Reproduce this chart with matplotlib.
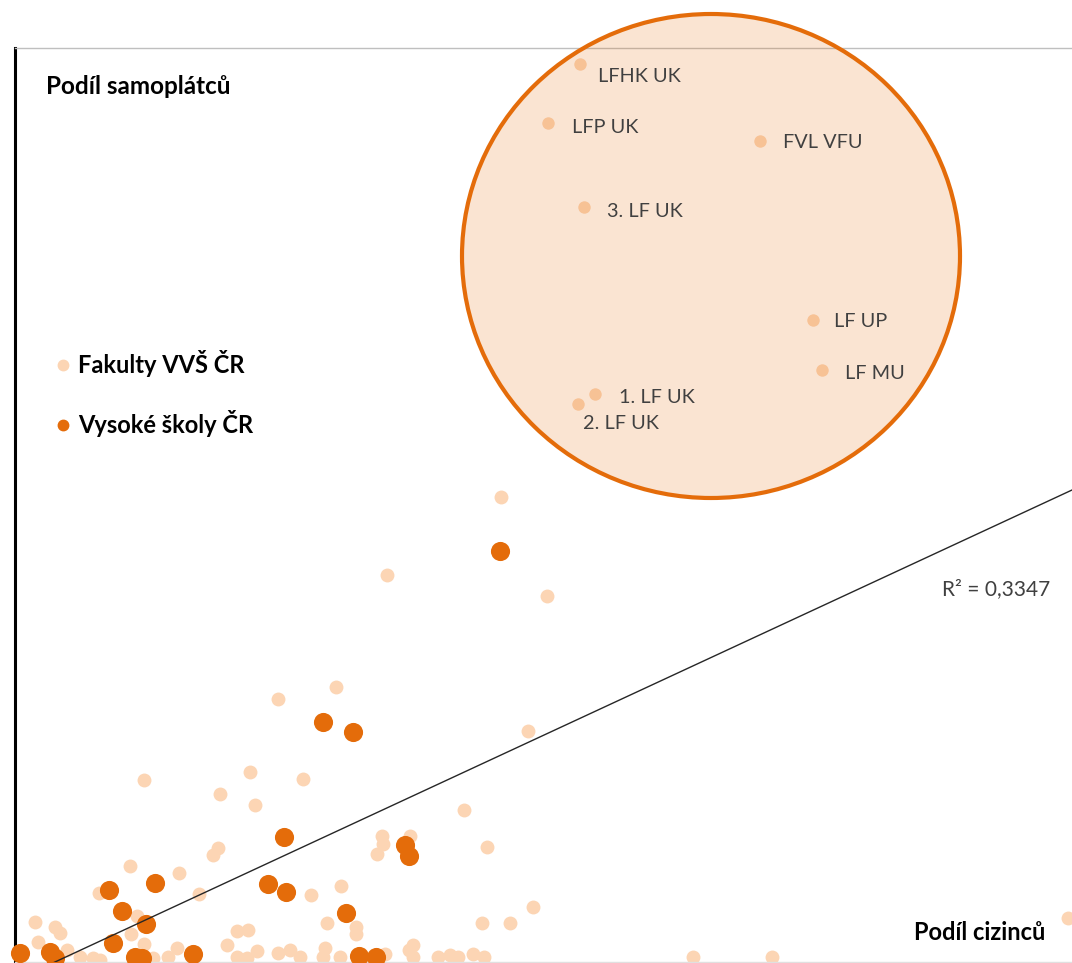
import matplotlib
matplotlib.use('Agg')
import matplotlib.pyplot as plt
from matplotlib.patches import Ellipse
from matplotlib.lines import Line2D

plt.rcParams['font.family'] = ['Lato', 'DejaVu Sans']

W, H = 1072, 963
mydpi = 100

# share of foreigners (x) and share of self-payers (y), in %
fak_x = [24.3, 18.6, 26.6, 16.05, 13.15, 25.65, 6.45, 11.75, 14.4, 10.25,
         12.0, 22.45, 18.35, 18.4, 18.1, 19.75, 23.6, 10.15, 9.9, 5.75,
         8.2, 4.2, 9.2, 14.8, 16.3, 6.1, 1.0, 2.0, 2.25, 5.8,
         1.15, 6.45, 2.6, 3.25, 3.9, 4.25, 8.1, 7.65, 6.9, 10.6,
         11.1, 11.65, 12.1, 11.1, 11.6, 15.6, 17.05, 17.05, 25.9, 23.35,
         24.75, 13.15, 13.75, 14.25, 15.5, 15.4, 16.25, 18.5, 19.9, 19.7,
         19.9, 21.15, 21.75, 22.15, 22.9, 23.45, 33.9, 37.85, 52.65]
fak_y = [23.25, 19.35, 18.3, 13.75, 13.15, 11.55, 9.1, 9.5, 9.15, 8.4,
         7.85, 7.6, 6.3, 5.9, 5.4, 6.3, 5.75, 5.7, 5.35, 4.8,
         4.45, 3.45, 3.4, 3.35, 3.8, 2.3, 2.0, 1.75, 1.45, 1.4,
         1.0, 0.9, 0.6, 0.25, 0.2, 0.1, 0.7, 0.25, 0.2, 0.85,
         1.55, 1.6, 0.55, 0.25, 0.2, 1.95, 1.75, 1.4, 2.75, 1.95,
         1.95, 0.45, 0.6, 0.25, 0.7, 0.25, 0.25, 0.4, 0.85, 0.6,
         0.25, 0.25, 0.35, 0.25, 0.4, 0.25, 0.25, 0.25, 2.2]

# highlighted faculties (medicine / veterinary)
med_names = ['LFHK UK', 'LFP UK', 'FVL VFU', '3. LF UK', 'LF UP', 'LF MU', '1. LF UK', '2. LF UK']
med_x = [28.25, 26.65, 37.25, 28.45, 39.9, 40.35, 29.0, 28.15]
med_y = [44.9, 41.95, 41.05, 37.75, 32.1, 29.6, 28.4, 27.9]

# universities
vs_x = [24.25, 15.4, 16.9, 13.45, 19.5, 19.7, 7.0, 4.7, 5.35, 6.55,
        4.9, 0.25, 1.75, 2.0, 6.0, 6.35, 8.9, 12.65, 13.55, 16.55,
        17.2, 18.05]
vs_y = [20.55, 12.0, 11.5, 6.25, 5.85, 5.3, 3.95, 3.6, 2.55, 1.9,
        0.95, 0.45, 0.5, 0.2, 0.25, 0.2, 0.4, 3.9, 3.5, 2.45,
        0.3, 0.25]

trend_slope = 0.4641
trend_intercept = -0.928
r2_text = 'R² = 0,3347'

x_range = [0, 52.85]
y_range = [0, 45.7]

light = '#FCD5B4'
dark = '#E46C0A'
textgray = '#404040'


def fpx(x, y):
    # pixel position in the picture -> figure fraction
    return x / W, 1 - y / H


fig = plt.figure(figsize=(W / mydpi, H / mydpi), dpi=mydpi)
ax = fig.add_axes([15 / W, 1 / H, 1057 / W, 914 / H])
ax.set_xlim(x_range)
ax.set_ylim(y_range)
ax.set_xticks([])
ax.set_yticks([])

ax.spines['right'].set_visible(False)
ax.spines['left'].set_color('black')
ax.spines['left'].set_linewidth(2.2)
ax.spines['top'].set_color('#BFBFBF')
ax.spines['top'].set_linewidth(1.0)
ax.spines['bottom'].set_color('#E0E0E0')
ax.spines['bottom'].set_linewidth(1.0)

ax.scatter(fak_x, fak_y, s=100, color=light, linewidths=0, zorder=2, clip_on=False)
ax.scatter(med_x, med_y, s=80, color=light, linewidths=0, zorder=2, clip_on=False)
ax.scatter(vs_x, vs_y, s=190, color=dark, linewidths=0, zorder=3, clip_on=False)

# trend line
tx = list(x_range)
ty = [trend_slope * v + trend_intercept for v in tx]
ax.plot(tx, ty, color='#262626', lw=1.0, zorder=4)

# highlight circle
circ = Ellipse((34.8, 35.3), 24.9, 24.2, facecolor=dark, alpha=0.18,
               edgecolor='none', zorder=5, clip_on=False)
ax.add_patch(circ)
ring = Ellipse((34.8, 35.3), 24.9, 24.2, facecolor='none',
               edgecolor=dark, lw=3.0, zorder=6, clip_on=False)
ax.add_patch(ring)

label_off = [(18, -12), (24, -4), (23, -1), (23, -4), (21, -1), (23, -3), (24, -3), (5, -19)]
for name, x, y, off in zip(med_names, med_x, med_y, label_off):
    ax.annotate(name, (x, y), xytext=off, textcoords='offset pixels',
                ha='left', va='center', fontsize=14.3, color=textgray, zorder=7)

fig.text(*fpx(942, 589), r2_text, ha='left', va='center', fontsize=15, color=textgray)
fig.text(*fpx(46, 87), 'Podíl samoplátců', ha='left', va='center',
         fontsize=17.5, fontweight='bold', color='black')
fig.text(*fpx(914, 932), 'Podíl cizinců', ha='left', va='center',
         fontsize=17, fontweight='bold', color='black')

handles = [Line2D([], [], marker='o', ls='', color=light, markersize=7.5),
           Line2D([], [], marker='o', ls='', color=dark, markersize=7.5)]
leg = ax.legend(handles, ['Fakulty VVŠ ČR', 'Vysoké školy ČR'], loc='upper left',
                bbox_to_anchor=fpx(56, 350), bbox_transform=fig.transFigure,
                frameon=False, prop={'size': 17, 'weight': 'bold'},
                labelspacing=1.4, handlelength=0.6, handletextpad=0.35,
                borderpad=0, borderaxespad=0)

plt.savefig('out.png', dpi=mydpi, facecolor='white')
